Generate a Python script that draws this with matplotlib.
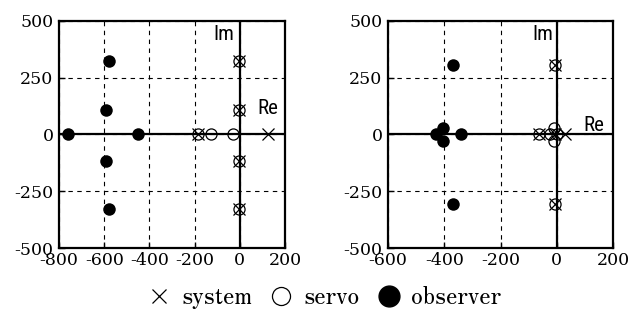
import matplotlib.pyplot as plt

plt.rcParams['axes.unicode_minus'] = False
plt.rcParams['font.family'] = ['DejaVu Serif']

# left plot poles
sys_l_re = [-5, -5, -5, -5, -184, 126]
sys_l_im = [325, 110, -115, -330, 0, 0]
srv_l_re = [-5, -5, -5, -5, -184, -127, -29]
srv_l_im = [325, 110, -115, -330, 0, 0, 0]
obs_l_re = [-580, -590, -760, -450, -590, -580]
obs_l_im = [325, 110, 0, 0, -115, -330]

# right plot poles
sys_r_re = [-5, -5, -62, -8, 30]
sys_r_im = [305, -305, 0, 0, 0]
srv_r_re = [-5, -5, -62, -10, -10, -25, 0]
srv_r_im = [305, -305, 0, 30, -30, 0, 0]
obs_r_re = [-370, -405, -405, -430, -340, -370]
obs_r_im = [305, 30, -30, 0, 0, -305]

fig = plt.figure(figsize=(6.43, 3.22), dpi=100)
ax1 = fig.add_axes([0.0918, 0.2298, 0.3515, 0.705])
ax2 = fig.add_axes([0.6034, 0.2298, 0.35, 0.705])

sans = ['Roboto Condensed', 'Liberation Sans Narrow', 'DejaVu Sans']


def draw(ax, sre, sim, cre, cim, ore, oim, xlim, xticks, im_x, re_xy):
    ax.set_xlim(xlim)
    ax.set_ylim(-500, 500)
    ax.set_xticks(xticks)
    ax.set_yticks([-500, -250, 0, 250, 500])
    ax.grid(True, color='black', ls=(0, (4, 4)), lw=0.8)
    ax.axhline(0, color='black', lw=1.6, zorder=1)
    ax.axvline(0, color='black', lw=1.6, zorder=1)
    ax.plot(ore, oim, 'o', color='black', ms=9, mew=0, ls='none', zorder=3)
    ax.plot(cre, cim, 'o', mfc='none', mec='black', mew=0.9, ms=8, ls='none', zorder=3)
    ax.plot(sre, sim, 'x', color='black', mew=0.9, ms=8, ls='none', zorder=3)
    for s in ax.spines.values():
        s.set_linewidth(1.6)
    ax.tick_params(direction='in', length=4, width=1, pad=3, labelsize=12.5)
    ax.tick_params(axis='y', pad=4)
    ax.text(im_x, 440, 'Im', fontsize=15, ha='right', va='center', family=sans)
    ax.text(re_xy[0], re_xy[1], 'Re', fontsize=15, ha='left', va='center', family=sans)


draw(ax1, sys_l_re, sys_l_im, srv_l_re, srv_l_im, obs_l_re, obs_l_im,
     (-800, 200), [-800, -600, -400, -200, 0, 200], -25, (78, 115))
draw(ax2, sys_r_re, sys_r_im, srv_r_re, srv_r_im, obs_r_re, obs_r_im,
     (-600, 200), [-600, -400, -200, 0, 200], -12, (95, 40))

h1, = ax1.plot([], [], 'x', color='black', mew=0.9, ms=10)
h2, = ax1.plot([], [], 'o', mfc='none', mec='black', mew=0.9, ms=13)
h3, = ax1.plot([], [], 'o', color='black', ms=15)
fig.legend([h1, h2, h3], ['system', 'servo', 'observer'], loc='center',
           bbox_to_anchor=(0.505, 0.075), ncol=3, frameon=False,
           handlelength=0.9, handletextpad=0.5, columnspacing=0.8,
           prop={'family': ['Zen Old Mincho', 'Liberation Mono'], 'size': 17})

fig.savefig('out.png', dpi=100)
